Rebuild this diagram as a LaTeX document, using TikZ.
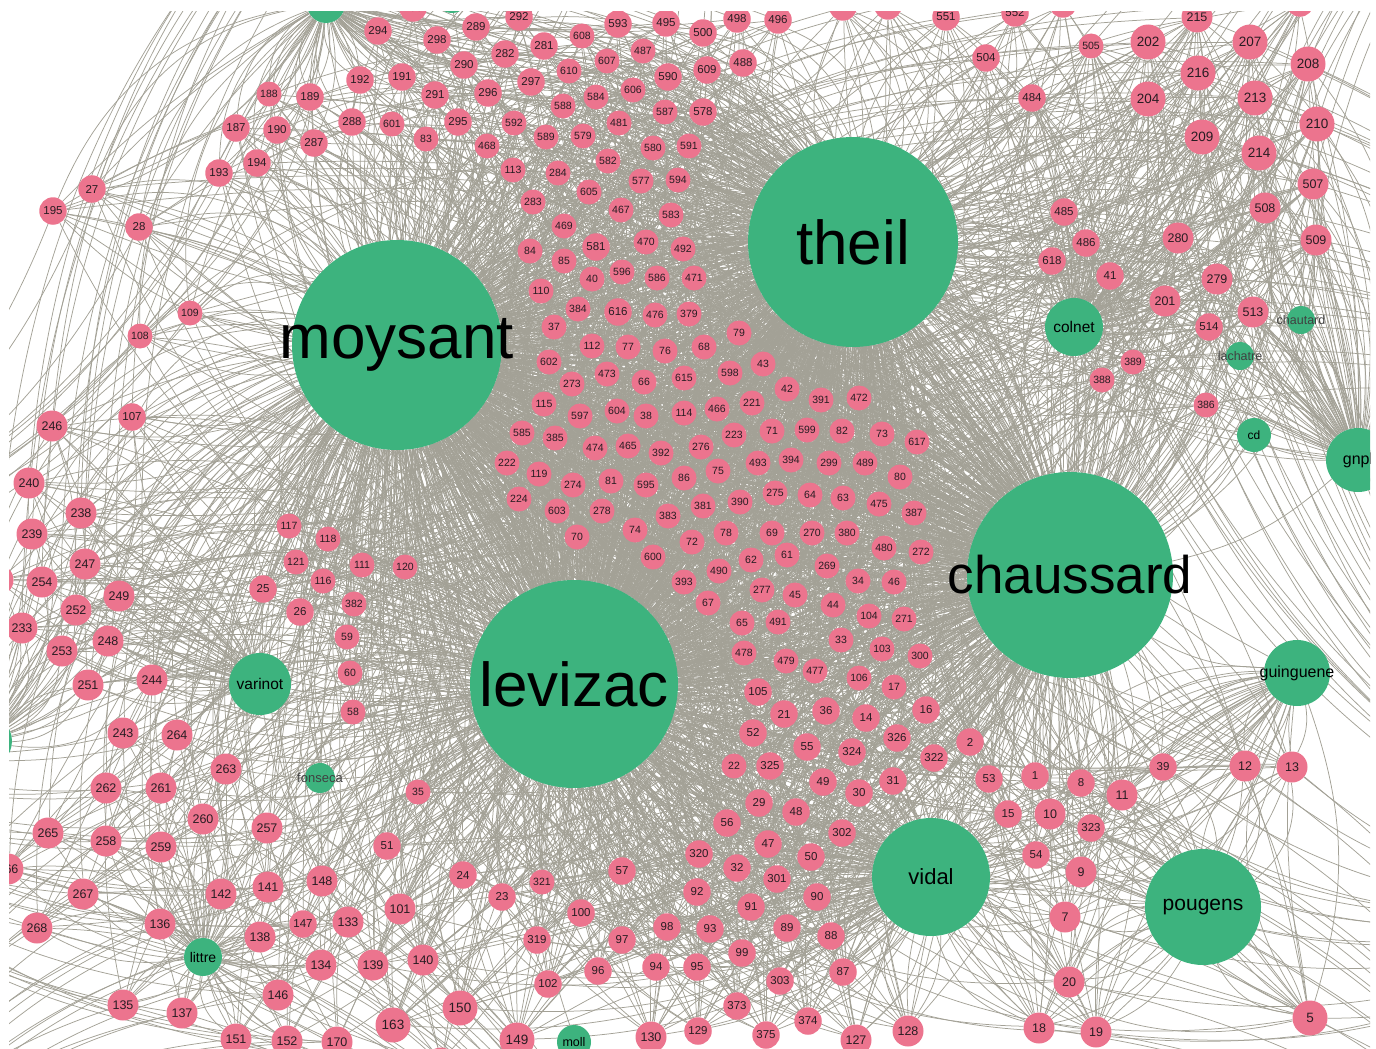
\documentclass[tikz,border=0pt]{standalone}
\usepackage{fontspec}
\setmainfont{Liberation Sans}
\definecolor{edgec}{RGB}{163,161,150}
\definecolor{hubc}{RGB}{61,179,126}
\definecolor{pinkc}{RGB}{236,116,142}
\definecolor{labc}{RGB}{40,28,34}
\pgfdeclarelayer{edgelayer}
\pgfsetlayers{edgelayer,main}
\tikzset{
  pinkbase/.style={circle,fill=pinkc,inner sep=0pt,text=labc},
  pinkS/.style={pinkbase,minimum size=25pt,font=\fontsize{10.5}{10.5}\selectfont},
  pinkM/.style={pinkbase,minimum size=27.5pt,font=\fontsize{11.5}{11.5}\selectfont},
  pinkL/.style={pinkbase,minimum size=31pt,font=\fontsize{12.5}{12.5}\selectfont},
  pinkX/.style={pinkbase,minimum size=35pt,font=\fontsize{13.5}{13.5}\selectfont},
  hub/.style={circle,fill=hubc,inner sep=0pt},
  hublab/.style={text=black,inner sep=0pt},
  edge/.style={draw=edgec,line width=0.75pt},
}
\begin{document}
\begin{tikzpicture}[x=1pt,y=-1pt]
\useasboundingbox (0,0) rectangle (1376,1049);
\begin{scope}
\clip (9,12) rectangle (1370,1049);
% hubs
\node[hub,minimum size=210pt,label={[hublab,font=\fontsize{62}{62}\selectfont]center:theil}] (theil) at (853,242) {};
\node[hub,minimum size=210pt,label={[hublab,font=\fontsize{62}{62}\selectfont]center:moysant}] (moysant) at (397,345) {};
\node[hub,minimum size=208pt,label={[hublab,font=\fontsize{62}{62}\selectfont]center:levizac}] (levizac) at (574,684) {};
\node[hub,minimum size=206pt,label={[hublab,font=\fontsize{53}{53}\selectfont]center:chaussard}] (chaussard) at (1070,575) {};
\node[hub,minimum size=118pt,label={[hublab,font=\fontsize{22}{22}\selectfont]center:vidal}] (vidal) at (931,877) {};
\node[hub,minimum size=116pt,label={[hublab,font=\fontsize{21}{21}\selectfont]center:pougens}] (pougens) at (1203,907) {};
\node[hub,minimum size=58pt,label={[hublab,font=\fontsize{15.5}{15.5}\selectfont]center:colnet}] (colnet) at (1074,327) {};
\node[hub,minimum size=66pt,label={[hublab,font=\fontsize{16}{16}\selectfont]center:guinguene}] (guinguene) at (1297,673) {};
\node[hub,minimum size=64pt,label={[hublab,font=\fontsize{16}{16}\selectfont]center:gnpl}] (gnpl) at (1358,460) {};
\node[hub,minimum size=62pt,label={[hublab,font=\fontsize{15.5}{15.5}\selectfont]center:varinot}] (varinot) at (260,684) {};
\node[hub,minimum size=38pt,label={[hublab,font=\fontsize{14}{14}\selectfont]center:littre}] (littre) at (203,957) {};
\node[hub,minimum size=34pt,label={[hublab,font=\fontsize{12.5}{12.5}\selectfont]center:moll}] (moll) at (574,1042) {};
\node[hub,minimum size=34pt,label={[hublab,font=\fontsize{12}{12}\selectfont]center:cd}] (cd) at (1254,435) {};
\node[hub,minimum size=28pt,label={[hublab,text=black!75,font=\fontsize{12.5}{12.5}\selectfont]center:chautard}] (chautard) at (1301,320) {};
\node[hub,minimum size=28pt,label={[hublab,text=black!75,font=\fontsize{12.5}{12.5}\selectfont]center:lachatre}] (lachatre) at (1240,356) {};
\node[hub,minimum size=30pt,label={[hublab,text=black!75,font=\fontsize{13}{13}\selectfont]center:fonseca}] (fonseca) at (320,778) {};
\node[hub,minimum size=38pt] (topga) at (326,4) {};
\node[hub,minimum size=34pt] (topgb) at (452,-4) {};
\node[hub,minimum size=54pt] (leftg) at (-15,741) {};
% pink nodes
\foreach \l/\x/\y in {608/582/36, 487/643/51, 607/607/61, 610/569/71, 606/633/90, 584/596/97, 588/563/106, 587/665/112, 601/392/124, 83/426/139, 592/514/123, 589/546/137, 579/583/136, 481/619/123, 468/487/146, 580/653/148, 591/689/146, 113/513/170, 284/558/173, 582/608/161, 577/641/181, 594/678/180, 605/589/192, 283/533/202, 467/621/210, 583/671/215, 469/564/226, 84/530/251, 470/646/242, 492/683/249, 85/564/261, 40/592/279, 596/622/272, 586/657/278, 471/694/278, 110/541/291, 384/578/309, 476/655/315, 379/689/314, 37/554/327, 112/592/346, 77/628/347, 76/665/351, 79/739/333, 68/704/347, 188/269/94, 109/190/313, 108/140/336, 117/289/526, 118/328/539, 121/296/562, 116/323/581, 111/362/565, 120/405/567, 382/354/604, 59/347/637, 60/350/673, 58/353/712, 35/418/792, 321/542/882, 22/734/766, 505/1091/46, 389/1133/362, 388/1102/380, 386/1206/405, 602/549/362, 473/607/374, 66/644/382, 615/684/378, 273/572/384, 115/544/404, 597/580/416, 604/617/411, 38/646/416, 114/684/413, 585/522/433, 385/555/438, 474/595/448, 465/628/446, 392/661/453, 222/507/463, 119/539/474, 274/573/485, 81/611/481, 595/646/485, 86/684/478, 224/519/499, 603/557/511, 278/602/511, 383/668/516, 74/635/530, 70/577/537, 600/653/557, 72/692/542, 393/684/582, 598/730/373, 43/763/364, 42/787/389, 391/821/400, 472/859/398, 466/717/409, 221/752/403, 223/734/435, 71/772/431, 599/807/430, 82/842/431, 73/882/434, 617/917/442, 276/701/447, 493/758/463, 394/791/460, 299/829/463, 489/865/463, 80/900/477, 75/718/471, 275/775/493, 64/810/495, 63/843/498, 475/879/504, 387/914/513, 381/703/506, 390/740/502, 78/726/533, 69/772/533, 270/812/533, 380/847/533, 480/884/548, 272/921/552, 62/751/560, 61/787/555, 269/827/566, 490/719/571, 34/858/581, 46/894/582, 277/762/590, 45/795/595, 44/833/605, 67/708/603, 104/869/616, 271/904/619, 65/742/623, 491/778/622, 33/841/640, 103/882/649, 300/920/656, 478/744/653, 479/786/661, 477/815/671, 106/859/678, 17/894/687}
  \node[pinkS] (p\l) at (\x,\y) {\l};
\foreach \l/\x/\y in {293/413/8, 294/378/31, 298/437/40, 289/476/27, 292/519/17, 593/618/24, 495/666/23, 281/544/46, 282/505/54, 290/464/65, 590/668/77, 192/360/80, 191/402/77, 291/435/95, 296/488/93, 297/531/82, 288/352/122, 295/458/122, 581/596/247, 616/618/312, 500/703/33, 498/737/19, 496/778/20, 609/707/70, 488/743/63, 578/703/112, 504/986/58, 551/946/17, 552/1015/13, 189/310/97, 187/236/128, 190/277/130, 287/314/143, 194/257/163, 193/219/173, 27/92/189, 195/53/211, 28/139/227, 107/132/417, 25/263/589, 26/300/612, 147/303/924, 51/387/846, 24/463/875, 57/622/871, 23/502/897, 100/581/913, 98/667/927, 319/537/940, 97/622/940, 96/598/971, 94/656/967, 102/548/984, 105/758/692, 21/784/714, 36/826/711, 14/866/718, 16/926/710, 52/753/733, 55/807/747, 324/852/752, 326/897/738, 2/970/742, 325/770/766, 322/934/758, 49/823/782, 30/859/793, 31/893/781, 53/989/779, 29/759/803, 48/796/812, 15/1008/814, 56/727/823, 302/842/833, 47/768/844, 320/699/854, 50/811/857, 32/737/868, 301/777/879, 92/697/892, 91/751/907, 90/817/897, 93/710/929, 89/787/928, 88/831/936, 99/742/953, 95/697/967, 303/780/981, 87/843/972, 373/737/1006, 374/808/1021, 129/698/1031, 375/766/1035, 1/1035/776, 8/1081/783, 39/1163/767, 323/1091/828, 54/1036/855, 484/1032/98, 485/1064/212, 486/1086/243, 618/1052/261, 41/1110/276, 514/1209/327}
  \node[pinkM] (p\l) at (\x,\y) {\l};
\foreach \l/\x/\y in {246/52/426, 240/29/483, 238/81/513, 239/32/534, 247/85/564, 254/42/582, 249/119/596, 252/76/610, 233/22/628, 248/108/641, 253/62/651, 251/88/685, 244/152/680, 243/123/733, 264/177/735, 263/226/769, 262/106/788, 261/161/788, 260/203/819, 257/267/828, 265/48/833, 258/106/841, 259/161/847, 266/8/869, 267/83/894, 142/221/894, 141/268/887, 148/322/881, 268/37/928, 136/160/924, 133/348/922, 138/260/937, 134/321/965, 146/278/995, 135/123/1005, 137/182/1013, 151/236/1039, 152/287/1041, 170/337/1042, 101/400/909, 139/373/965, 140/423/960, 130/651/1037, 127/856/1040, 128/908/1031, 11/1122/795, 12/1245/766, 13/1292/767, 10/1050/814, 9/1081/872, 7/1065/917, 20/1069/982, 18/1039/1028, 19/1096/1032, 215/1197/17, 507/1313/184, 508/1265/208, 280/1178/238, 509/1316/240, 279/1217/279, 201/1165/301, 513/1253/312}
  \node[pinkL] (p\l) at (\x,\y) {\l};
\foreach \l/\x/\y in {150/460/1008, 163/393/1025, 149/517/1040, 5/1310/1018, 202/1148/42, 207/1250/42, 208/1308/64, 216/1198/73, 204/1148/99, 213/1255/98, 210/1317/124, 209/1202/137, 214/1259/153}
  \node[pinkX] (p\l) at (\x,\y) {\l};
\node[pinkM] (pq1) at (843,7) {};
\node[pinkM] (pq2) at (888,6) {};
\node[pinkM] (pq3) at (1063,4) {};
\node[pinkM] (pq4) at (1300,3) {};
\node[pinkL] (pq5) at (-2,580) {};
\node[pinkL] (pq6) at (441,1063) {};
\end{scope}
% off-frame anchors
\coordinate (oN) at (600,-350);
\coordinate (oNa) at (250,-250);
\coordinate (oW) at (-350,600);
\coordinate (oWa) at (-250,250);
\coordinate (oSW) at (-200,1300);
\coordinate (oS) at (700,1400);
\coordinate (oE) at (1750,500);
\coordinate (oEa) at (1650,900);
\coordinate (oNE) at (1600,-250);
\coordinate (oSE) at (1650,1350);
\begin{pgfonlayer}{edgelayer}
\begin{scope}
\clip (9,12) rectangle (1370,1049);
% centre
\foreach \n in {608,487,607,610,606,584,588,587,601,83,592,589,579,481,468,580,591,113,284,582,577,594,605,283,467,583,469,84,581,470,492,85,40,596,586,471,110,384,616,476,379,37,112,77,76,79,68,602,473,66,615,273,115,597,604,38,114,585,385,474,465,392,222,119,274,81,595,86,224,603,278,383,74,70,600,72,393,598,43,42,391,472,466,221,223,71,599,82,73,617,276,493,394,299,489,80,75,275,64,63,475,387,381,390,78,69,270,380,480,272,62,61,269,490,34,46,277,45,44,67,104,271,65,491,33,103,300,478,479,477,106,17}{
  \foreach \h in {moysant,theil,levizac,chaussard}{
    \foreach \b in {8,-18,30}{\draw[edge] (p\n) to[bend left=\b] (\h);}
  }
}
% top
\foreach \n in {293,294,298,289,292,593,495,281,282,290,590,192,191,291,296,297,288,295,500,498,496,609,488,578}{
  \foreach \h in {moysant,theil,topga,levizac}{
    \foreach \b in {8,-18,30}{\draw[edge] (p\n) to[bend left=\b] (\h);}
  }
  \draw[edge] (p\n) to[bend right=20] (oN);
}
\foreach \n in {504,551,552,q1,q2,q3,q4}{
  \foreach \h in {theil,chaussard,colnet,moysant}{
    \foreach \b in {8,-18,30}{\draw[edge] (p\n) to[bend left=\b] (\h);}
  }
}
% top left
\foreach \n in {188,189,187,190,287,194,193,27,195,28,109,108}{
  \foreach \h in {moysant,topga,theil,levizac}{
    \foreach \b in {8,-18,30}{\draw[edge] (p\n) to[bend left=\b] (\h);}
  }
  \draw[edge] (p\n) to[bend left=25] (oW);
}
% left
\foreach \n in {246,107,240,238,239,247,254,249,252,233,248,253,251,244,q5}{
  \foreach \h in {moysant,levizac,varinot,leftg}{
    \foreach \b in {8,-18,30}{\draw[edge] (p\n) to[bend left=\b] (\h);}
  }
  \draw[edge] (p\n) to[bend left=30] (oN);
  \draw[edge] (p\n) to[bend right=20] (theil);
}
\foreach \n in {117,118,121,116,25,26,111,120,382,59,60,58}{
  \foreach \h in {moysant,levizac,theil,chaussard}{
    \foreach \b in {8,-18,30}{\draw[edge] (p\n) to[bend left=\b] (\h);}
  }
}
% bottom left
\foreach \n in {243,264,263,262,261,260,257,265,258,259,266,267,142,141,148,268,136,147,133,138,134,146,135,137,151,152,170,q6}{
  \foreach \h in {levizac,moysant,littre}{
    \foreach \b in {8,-18,30}{\draw[edge] (p\n) to[bend left=\b] (\h);}
  }
  \draw[edge] (p\n) to[bend right=25] (oSW);
  \draw[edge] (p\n) to[bend left=20] (oS);
  \draw[edge] (p\n) to[bend left=30] (oW);
}
% bottom
\foreach \n in {35,51,24,321,57,23,101,100,98,319,97,139,140,96,94,102,150,163,149,130}{
  \foreach \h in {levizac,moysant,vidal,chaussard,theil}{
    \foreach \b in {8,-18,30}{\draw[edge] (p\n) to[bend left=\b] (\h);}
  }
}
\foreach \n in {105,21,36,14,16,52,55,324,326,2,22,325,322,49,30,31,53,29,48,15,56,302,47,320,50,32,301,92,91,90,93,89,88,99,95,303,87,373,374,129,375,127,128}{
  \foreach \h in {levizac,chaussard,vidal,theil,moysant}{
    \foreach \b in {8,-18,30}{\draw[edge] (p\n) to[bend left=\b] (\h);}
  }
}
% bottom right
\foreach \n in {1,8,11,39,12,13,10,323,54,9,7,20,18,19,5}{
  \foreach \h in {chaussard,pougens,vidal,theil,guinguene,levizac}{
    \foreach \b in {8,-18,30}{\draw[edge] (p\n) to[bend left=\b] (\h);}
  }
  \draw[edge] (p\n) to[bend left=20] (oSE);
  \draw[edge] (p\n) to[bend right=20] (oEa);
}
% right
\foreach \n in {484,505,202,215,207,208,216,204,213,210,209,214,507,508,485,280,509,486,618,41,279,201,513,514,389,388,386}{
  \foreach \h in {theil,chaussard,colnet,gnpl,moysant,levizac}{
    \foreach \b in {8,-18,30}{\draw[edge] (p\n) to[bend left=\b] (\h);}
  }
  \draw[edge] (p\n) to[bend left=20] (oE);
  \draw[edge] (p\n) to[bend right=20] (oEa);
  \draw[edge] (p\n) to[bend left=20] (oNE);
}
% hubs
\foreach \a/\b in {moysant/theil,moysant/levizac,moysant/chaussard,theil/levizac,theil/chaussard,levizac/chaussard,vidal/levizac,vidal/chaussard,vidal/theil,vidal/moysant,pougens/chaussard,pougens/theil,pougens/levizac,colnet/theil,colnet/chaussard,guinguene/chaussard,guinguene/theil,gnpl/theil,gnpl/chaussard,cd/theil,cd/chaussard,chautard/theil,lachatre/theil,varinot/moysant,varinot/levizac,littre/levizac,littre/moysant,fonseca/levizac,fonseca/moysant,moll/levizac,topga/moysant,topga/theil,topgb/moysant,topgb/theil,leftg/moysant,leftg/levizac}{
  \draw[edge] (\a) to[bend left=14] (\b);
}
\end{scope}
\end{pgfonlayer}
\end{tikzpicture}
\end{document}
